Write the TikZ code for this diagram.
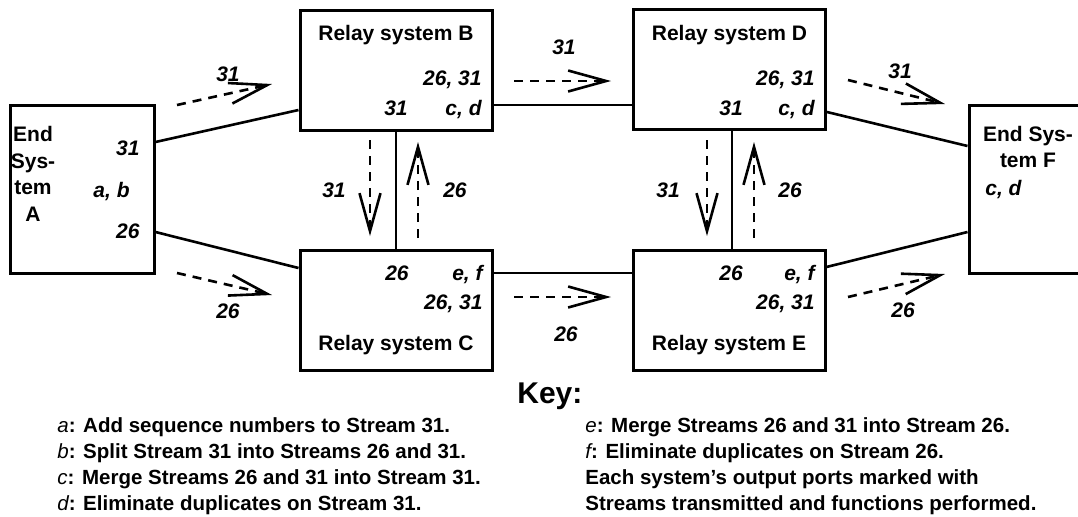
\documentclass[tikz,border=0pt]{standalone}
\usepackage{fontspec}
\setmainfont{Liberation Sans}
\usetikzlibrary{arrows.meta}
\begin{document}
\begin{tikzpicture}[x=0.5pt,y=-0.5pt,
  box/.style={draw, line width=1.5pt, inner sep=0pt},
  conn/.style={line width=1.3pt},
  flow/.style={line width=1.3pt, dash pattern=on 4.5pt off 3.5pt,
    -{Straight Barb[length=19pt,width=10.5pt,line width=1.3pt]}},
  ttl/.style={font=\fontsize{10.5}{13.25}\selectfont\bfseries, inner sep=0pt},
  port/.style={font=\fontsize{10.5}{13}\selectfont\bfseries\itshape, inner sep=0pt},
  keyt/.style={font=\fontsize{10.25}{13}\selectfont\bfseries, inner sep=0pt, anchor=base west},
  ktitle/.style={font=\fontsize{15}{18}\selectfont\bfseries, inner sep=0pt, anchor=base west}]
\useasboundingbox (0,0) rectangle (1078,516);

% boxes
\node[box, minimum width=72pt, minimum height=84pt] (A) at (82,189) {};
\node[box, minimum width=96pt, minimum height=60pt] (B) at (396,70) {};
\node[box, minimum width=96pt, minimum height=60pt] (C) at (396,310) {};
\node[box, minimum width=96pt, minimum height=60pt] (D) at (729.5,69.5) {};
\node[box, minimum width=96pt, minimum height=60pt] (E) at (729,310) {};
\node[box, minimum width=66pt, minimum height=84pt] (F) at (1035,189.5) {};

% connectors
\draw[conn] (A.east |- 0,142) -- (B.west |- 0,110);
\draw[conn] (A.east |- 0,232) -- (C.west |- 0,268);
\draw[conn] (B.east |- 0,105) -- (D.west |- 0,105);
\draw[conn] (C.east |- 0,273) -- (E.west |- 0,273);
\draw[conn] (D.east |- 0,112) -- (F.west |- 0,146);
\draw[conn] (E.east |- 0,267) -- (F.west |- 0,232);
\draw[conn] (B.south) -- (C.north);
\draw[conn] (D.south -| 732,0) -- (E.north -| 732,0);

% stream flow arrows
\coordinate (fAB1) at (177,105); \coordinate (fAB2) at (272,84);
\coordinate (fAC1) at (177,273); \coordinate (fAC2) at (272,295);
\coordinate (fBD1) at (514,81);  \coordinate (fBD2) at (611,81);
\coordinate (fCE1) at (514,297); \coordinate (fCE2) at (611,297);
\coordinate (fDF1) at (848,80);  \coordinate (fDF2) at (945,104);
\coordinate (fEF1) at (848,297); \coordinate (fEF2) at (945,274);
\coordinate (fBC1) at (370,140); \coordinate (fBC2) at (370,236);
\coordinate (fCB1) at (418,238); \coordinate (fCB2) at (418,142);
\coordinate (fDE1) at (707,140); \coordinate (fDE2) at (707,236);
\coordinate (fED1) at (754,238); \coordinate (fED2) at (754,142);
\foreach \s in {AB,AC,BD,CE,DF,EF,BC,CB,DE,ED} \draw[flow] (f\s1) -- (f\s2);

% flow labels
\node[port] (lAB) at (228,74) {31};
\node[port] (lAC) at (228,311) {26};
\node[port] (lBD) at (564,47) {31};
\node[port] (lCE) at (566,334) {26};
\node[port] (lDF) at (900,71) {31};
\node[port] (lEF) at (903,310) {26};
\node[port] (lBC) at (334,190) {31};
\node[port] (lCB) at (455,190) {26};
\node[port] (lDE) at (668,190) {31};
\node[port] (lED) at (790,190) {26};

% End system A
\node[ttl, align=center] (tA) at (33,174) {End\\Sys-\\tem\\A};
\node[port, anchor=base east] (pA1) at (140,155) {31};
\node[port, anchor=base east] (pA2) at (130,197) {a, b};
\node[port, anchor=base east] (pA3) at (140,238) {26};

% Relay B
\node[ttl, anchor=base] (tB) at (396,40) {Relay system B};
\node[port, anchor=base east] (pB1) at (482,85) {26, 31};
\node[port, anchor=base] (pB2) at (396,115) {31};
\node[port, anchor=base east] (pB3) at (482,115) {c, d};

% Relay C
\node[port, anchor=base] (pC1) at (397,280) {26};
\node[port, anchor=base east] (pC2) at (483,280) {e, f};
\node[port, anchor=base east] (pC3) at (483,309) {26, 31};
\node[ttl, anchor=base] (tC) at (396,350) {Relay system C};

% Relay D
\node[ttl, anchor=base] (tD) at (729.5,40) {Relay system D};
\node[port, anchor=base east] (pD1) at (815,85) {26, 31};
\node[port, anchor=base] (pD2) at (731,115) {31};
\node[port, anchor=base east] (pD3) at (815,115) {c, d};

% Relay E
\node[port, anchor=base] (pE1) at (731,280) {26};
\node[port, anchor=base east] (pE2) at (815,280) {e, f};
\node[port, anchor=base east] (pE3) at (815,309) {26, 31};
\node[ttl, anchor=base] (tE) at (729,350) {Relay system E};

% End system F
\node[ttl, align=center] (tF) at (1028,147) {End Sys-\\tem F};
\node[port, anchor=base west] (pF1) at (985,195) {c, d};

% Key
\node[ktitle] (key) at (517,403) {Key:};
\node[keyt] (ka) at (57,432) {{\mdseries\itshape a}: Add sequence numbers to Stream 31.};
\node[keyt] (kb) at (57,458) {{\mdseries\itshape b}: Split Stream 31 into Streams 26 and 31.};
\node[keyt] (kc) at (57,484) {{\mdseries\itshape c}: Merge Streams 26 and 31 into Stream 31.};
\node[keyt] (kd) at (57,510) {{\mdseries\itshape d}: Eliminate duplicates on Stream 31.};
\node[keyt] (ke) at (585,432) {{\mdseries\itshape e}: Merge Streams 26 and 31 into Stream 26.};
\node[keyt] (kf) at (585,458) {{\mdseries\itshape f}: Eliminate duplicates on Stream 26.};
\node[keyt] (kg) at (585,484) {Each system’s output ports marked with};
\node[keyt] (kh) at (585,510) {Streams transmitted and functions performed.};
\end{tikzpicture}
\end{document}
